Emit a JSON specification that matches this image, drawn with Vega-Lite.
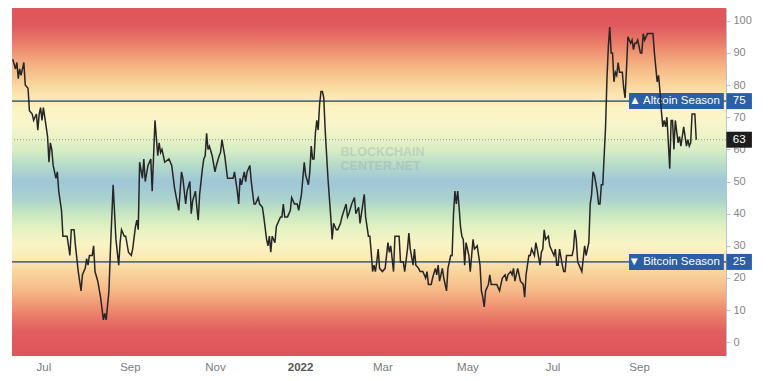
{
  "$schema": "https://vega.github.io/schema/vega-lite/v6.json",
  "width": 714,
  "height": 348,
  "autosize": "none",
  "padding": {"left": 12, "top": 8, "right": 47, "bottom": 25},
  "background": "white",
  "config": {"view": {"stroke": null}, "font": "Liberation Sans"},
  "resolve": {"axis": {"x": "independent", "y": "independent"}},
  "datasets": {
    "alt": [
      {"date":"2021-06-09","index":88},{"date":"2021-06-11","index":85},{"date":"2021-06-12","index":87},{"date":"2021-06-13","index":82},{"date":"2021-06-14","index":85},{"date":"2021-06-15","index":83},{"date":"2021-06-17","index":87},{"date":"2021-06-18","index":80},{"date":"2021-06-20","index":79},{"date":"2021-06-21","index":72},{"date":"2021-06-23","index":71},{"date":"2021-06-24","index":69},{"date":"2021-06-26","index":71},{"date":"2021-06-27","index":66},{"date":"2021-06-28","index":71},{"date":"2021-06-29","index":73},{"date":"2021-06-30","index":69},
      {"date":"2021-07-01","index":73},{"date":"2021-07-03","index":67},{"date":"2021-07-04","index":64},{"date":"2021-07-05","index":56},{"date":"2021-07-06","index":62},{"date":"2021-07-07","index":60},{"date":"2021-07-08","index":55},{"date":"2021-07-09","index":53},{"date":"2021-07-10","index":51},{"date":"2021-07-11","index":53},{"date":"2021-07-12","index":47},{"date":"2021-07-14","index":41},{"date":"2021-07-15","index":33},{"date":"2021-07-18","index":33},{"date":"2021-07-20","index":27},{"date":"2021-07-21","index":35},{"date":"2021-07-23","index":35},{"date":"2021-07-24","index":30},{"date":"2021-07-26","index":22},{"date":"2021-07-28","index":16},{"date":"2021-07-29","index":21},{"date":"2021-07-31","index":23},
      {"date":"2021-08-01","index":26},{"date":"2021-08-02","index":24},{"date":"2021-08-03","index":27},{"date":"2021-08-05","index":27},{"date":"2021-08-06","index":30},{"date":"2021-08-07","index":22},{"date":"2021-08-09","index":19},{"date":"2021-08-11","index":14},{"date":"2021-08-13","index":7},{"date":"2021-08-14","index":9},{"date":"2021-08-15","index":7},{"date":"2021-08-17","index":16},{"date":"2021-08-18","index":28},{"date":"2021-08-20","index":49},{"date":"2021-08-22","index":32},{"date":"2021-08-24","index":24},{"date":"2021-08-25","index":31},{"date":"2021-08-26","index":35},{"date":"2021-08-28","index":33},{"date":"2021-08-29","index":33},{"date":"2021-08-31","index":28},
      {"date":"2021-09-02","index":27},{"date":"2021-09-03","index":29},{"date":"2021-09-05","index":36},{"date":"2021-09-06","index":38},{"date":"2021-09-07","index":35},{"date":"2021-09-08","index":56},{"date":"2021-09-10","index":51},{"date":"2021-09-11","index":57},{"date":"2021-09-12","index":50},{"date":"2021-09-14","index":55},{"date":"2021-09-16","index":57},{"date":"2021-09-17","index":47},{"date":"2021-09-19","index":69},{"date":"2021-09-21","index":58},{"date":"2021-09-22","index":62},{"date":"2021-09-23","index":59},{"date":"2021-09-24","index":60},{"date":"2021-09-26","index":56},{"date":"2021-09-29","index":57},
      {"date":"2021-10-01","index":55},{"date":"2021-10-03","index":48},{"date":"2021-10-06","index":41},{"date":"2021-10-08","index":53},{"date":"2021-10-09","index":51},{"date":"2021-10-11","index":43},{"date":"2021-10-12","index":47},{"date":"2021-10-14","index":50},{"date":"2021-10-15","index":40},{"date":"2021-10-16","index":44},{"date":"2021-10-18","index":47},{"date":"2021-10-19","index":42},{"date":"2021-10-20","index":38},{"date":"2021-10-21","index":46},{"date":"2021-10-23","index":54},{"date":"2021-10-24","index":57},{"date":"2021-10-25","index":58},{"date":"2021-10-26","index":65},{"date":"2021-10-27","index":60},{"date":"2021-10-28","index":61},{"date":"2021-10-30","index":58},
      {"date":"2021-11-01","index":53},{"date":"2021-11-02","index":55},{"date":"2021-11-04","index":58},{"date":"2021-11-05","index":59},{"date":"2021-11-06","index":63},{"date":"2021-11-08","index":58},{"date":"2021-11-10","index":51},{"date":"2021-11-12","index":51},{"date":"2021-11-14","index":51},{"date":"2021-11-15","index":53},{"date":"2021-11-17","index":47},{"date":"2021-11-18","index":43},{"date":"2021-11-19","index":51},{"date":"2021-11-20","index":49},{"date":"2021-11-22","index":53},{"date":"2021-11-23","index":50},{"date":"2021-11-24","index":53},{"date":"2021-11-26","index":55},{"date":"2021-11-27","index":50},{"date":"2021-11-29","index":43},{"date":"2021-11-30","index":43},
      {"date":"2021-12-02","index":45},{"date":"2021-12-03","index":43},{"date":"2021-12-05","index":42},{"date":"2021-12-06","index":39},{"date":"2021-12-08","index":32},{"date":"2021-12-09","index":30},{"date":"2021-12-10","index":33},{"date":"2021-12-11","index":28},{"date":"2021-12-12","index":33},{"date":"2021-12-14","index":31},{"date":"2021-12-15","index":36},{"date":"2021-12-16","index":37},{"date":"2021-12-18","index":39},{"date":"2021-12-19","index":39},{"date":"2021-12-20","index":43},{"date":"2021-12-21","index":39},{"date":"2021-12-23","index":39},{"date":"2021-12-25","index":41},{"date":"2021-12-26","index":45},{"date":"2021-12-28","index":43},{"date":"2021-12-30","index":43},{"date":"2021-12-31","index":41},
      {"date":"2022-01-02","index":46},{"date":"2022-01-04","index":56},{"date":"2022-01-05","index":52},{"date":"2022-01-07","index":49},{"date":"2022-01-08","index":53},{"date":"2022-01-09","index":61},{"date":"2022-01-10","index":57},{"date":"2022-01-11","index":57},{"date":"2022-01-12","index":65},{"date":"2022-01-13","index":69},{"date":"2022-01-14","index":66},{"date":"2022-01-15","index":74},{"date":"2022-01-16","index":78},{"date":"2022-01-17","index":78},{"date":"2022-01-18","index":76},{"date":"2022-01-19","index":66},{"date":"2022-01-21","index":51},{"date":"2022-01-22","index":45},{"date":"2022-01-23","index":39},{"date":"2022-01-24","index":32},{"date":"2022-01-25","index":37},{"date":"2022-01-27","index":35},{"date":"2022-01-28","index":35},{"date":"2022-01-30","index":37},{"date":"2022-01-31","index":39},
      {"date":"2022-02-03","index":43},{"date":"2022-02-04","index":39},{"date":"2022-02-05","index":40},{"date":"2022-02-07","index":43},{"date":"2022-02-09","index":45},{"date":"2022-02-10","index":40},{"date":"2022-02-12","index":42},{"date":"2022-02-13","index":37},{"date":"2022-02-14","index":40},{"date":"2022-02-16","index":46},{"date":"2022-02-17","index":39},{"date":"2022-02-19","index":33},{"date":"2022-02-20","index":33},{"date":"2022-02-21","index":28},{"date":"2022-02-22","index":22},{"date":"2022-02-23","index":24},{"date":"2022-02-24","index":22},{"date":"2022-02-25","index":25},{"date":"2022-02-26","index":29},{"date":"2022-02-27","index":23},
      {"date":"2022-03-01","index":22},{"date":"2022-03-03","index":23},{"date":"2022-03-05","index":31},{"date":"2022-03-06","index":28},{"date":"2022-03-07","index":30},{"date":"2022-03-09","index":22},{"date":"2022-03-10","index":33},{"date":"2022-03-11","index":33},{"date":"2022-03-13","index":33},{"date":"2022-03-14","index":25},{"date":"2022-03-16","index":25},{"date":"2022-03-17","index":22},{"date":"2022-03-19","index":29},{"date":"2022-03-20","index":34},{"date":"2022-03-21","index":29},{"date":"2022-03-23","index":24},{"date":"2022-03-24","index":29},{"date":"2022-03-25","index":24},{"date":"2022-03-27","index":23},{"date":"2022-03-28","index":22},{"date":"2022-03-30","index":22},
      {"date":"2022-04-01","index":20},{"date":"2022-04-02","index":22},{"date":"2022-04-03","index":18},{"date":"2022-04-05","index":18},{"date":"2022-04-06","index":20},{"date":"2022-04-08","index":23},{"date":"2022-04-09","index":21},{"date":"2022-04-10","index":24},{"date":"2022-04-11","index":19},{"date":"2022-04-13","index":23},{"date":"2022-04-14","index":20},{"date":"2022-04-16","index":16},{"date":"2022-04-17","index":23},{"date":"2022-04-19","index":27},{"date":"2022-04-20","index":27},{"date":"2022-04-21","index":40},{"date":"2022-04-22","index":47},{"date":"2022-04-23","index":43},{"date":"2022-04-24","index":47},{"date":"2022-04-25","index":42},{"date":"2022-04-26","index":36},{"date":"2022-04-27","index":33},{"date":"2022-04-28","index":32},{"date":"2022-04-29","index":24},{"date":"2022-04-30","index":31},
      {"date":"2022-05-02","index":27},{"date":"2022-05-03","index":22},{"date":"2022-05-04","index":27},{"date":"2022-05-05","index":32},{"date":"2022-05-06","index":29},{"date":"2022-05-08","index":30},{"date":"2022-05-09","index":27},{"date":"2022-05-10","index":24},{"date":"2022-05-11","index":16},{"date":"2022-05-12","index":14},{"date":"2022-05-13","index":11},{"date":"2022-05-14","index":16},{"date":"2022-05-16","index":18},{"date":"2022-05-17","index":21},{"date":"2022-05-18","index":18},{"date":"2022-05-20","index":18},{"date":"2022-05-22","index":18},{"date":"2022-05-24","index":16},{"date":"2022-05-25","index":18},{"date":"2022-05-26","index":20},{"date":"2022-05-28","index":21},{"date":"2022-05-29","index":19},{"date":"2022-05-30","index":21},
      {"date":"2022-06-01","index":22},{"date":"2022-06-02","index":21},{"date":"2022-06-03","index":23},{"date":"2022-06-04","index":19},{"date":"2022-06-06","index":23},{"date":"2022-06-07","index":21},{"date":"2022-06-08","index":19},{"date":"2022-06-10","index":18},{"date":"2022-06-11","index":14},{"date":"2022-06-12","index":21},{"date":"2022-06-14","index":27},{"date":"2022-06-15","index":27},{"date":"2022-06-16","index":29},{"date":"2022-06-18","index":27},{"date":"2022-06-19","index":31},{"date":"2022-06-20","index":29},{"date":"2022-06-22","index":24},{"date":"2022-06-23","index":28},{"date":"2022-06-24","index":29},{"date":"2022-06-25","index":35},{"date":"2022-06-26","index":32},{"date":"2022-06-28","index":33},{"date":"2022-06-29","index":30},{"date":"2022-06-30","index":29},
      {"date":"2022-07-02","index":27},{"date":"2022-07-03","index":29},{"date":"2022-07-04","index":24},{"date":"2022-07-05","index":24},{"date":"2022-07-06","index":29},{"date":"2022-07-08","index":24},{"date":"2022-07-09","index":22},{"date":"2022-07-10","index":22},{"date":"2022-07-11","index":27},{"date":"2022-07-13","index":27},{"date":"2022-07-15","index":27},{"date":"2022-07-16","index":29},{"date":"2022-07-17","index":35},{"date":"2022-07-18","index":32},{"date":"2022-07-19","index":25},{"date":"2022-07-22","index":22},{"date":"2022-07-24","index":30},{"date":"2022-07-25","index":27},{"date":"2022-07-27","index":31},{"date":"2022-07-28","index":43},{"date":"2022-07-29","index":46},{"date":"2022-07-30","index":53},{"date":"2022-07-31","index":52},
      {"date":"2022-08-02","index":47},{"date":"2022-08-03","index":43},{"date":"2022-08-04","index":43},{"date":"2022-08-05","index":49},{"date":"2022-08-06","index":49},{"date":"2022-08-07","index":58},{"date":"2022-08-08","index":67},{"date":"2022-08-09","index":82},{"date":"2022-08-10","index":92},{"date":"2022-08-11","index":98},{"date":"2022-08-12","index":90},{"date":"2022-08-13","index":90},{"date":"2022-08-14","index":81},{"date":"2022-08-15","index":84},{"date":"2022-08-16","index":83},{"date":"2022-08-17","index":87},{"date":"2022-08-18","index":84},{"date":"2022-08-20","index":84},{"date":"2022-08-21","index":79},{"date":"2022-08-22","index":76},{"date":"2022-08-23","index":85},{"date":"2022-08-24","index":95},{"date":"2022-08-26","index":93},{"date":"2022-08-27","index":94},{"date":"2022-08-28","index":91},{"date":"2022-08-29","index":93},{"date":"2022-08-30","index":93},{"date":"2022-08-31","index":94},
      {"date":"2022-09-02","index":90},{"date":"2022-09-03","index":90},{"date":"2022-09-04","index":96},{"date":"2022-09-05","index":94},{"date":"2022-09-07","index":96},{"date":"2022-09-09","index":96},{"date":"2022-09-11","index":96},{"date":"2022-09-12","index":90},{"date":"2022-09-14","index":81},{"date":"2022-09-15","index":83},{"date":"2022-09-16","index":78},{"date":"2022-09-17","index":72},{"date":"2022-09-18","index":67},{"date":"2022-09-19","index":69},{"date":"2022-09-20","index":67},{"date":"2022-09-21","index":70},{"date":"2022-09-22","index":62},{"date":"2022-09-23","index":54},{"date":"2022-09-24","index":69},{"date":"2022-09-25","index":69},{"date":"2022-09-26","index":60},{"date":"2022-09-27","index":69},{"date":"2022-09-29","index":62},{"date":"2022-09-30","index":64},
      {"date":"2022-10-01","index":61},{"date":"2022-10-02","index":64},{"date":"2022-10-03","index":67},{"date":"2022-10-05","index":61},{"date":"2022-10-06","index":63},{"date":"2022-10-07","index":61},{"date":"2022-10-08","index":62},{"date":"2022-10-09","index":71},{"date":"2022-10-11","index":71},{"date":"2022-10-12","index":63}
    ],
    "boxes": [
      {"kind": "season", "value": 75, "from": "2022-08-24T19:00:00Z", "to": "2022-10-31T19:00:00Z"},
      {"kind": "season", "value": 25, "from": "2022-08-24T19:00:00Z", "to": "2022-10-31T19:00:00Z"},
      {"kind": "season", "value": 75, "from": "2022-11-02T14:00:00Z", "to": "2022-11-20T22:00:00Z"},
      {"kind": "season", "value": 25, "from": "2022-11-02T14:00:00Z", "to": "2022-11-20T22:00:00Z"},
      {"kind": "last", "value": 63, "from": "2022-11-02T14:00:00Z", "to": "2022-11-20T22:00:00Z"}
    ],
    "seasons": [
      {"label": "▲ Altcoin Season", "value": 75, "at": "2022-10-31T19:00:00Z"},
      {"label": "▼ Bitcoin Season", "value": 25, "at": "2022-10-31T19:00:00Z"}
    ],
    "tags": [
      {"tag": "75", "value": 75, "mid": "2022-11-11T18:00:00Z"},
      {"tag": "25", "value": 25, "mid": "2022-11-11T18:00:00Z"},
      {"tag": "63", "value": 63, "mid": "2022-11-11T18:00:00Z"}
    ],
    "watermark": [
      {"date": "2022-01-30", "value": 59.1, "text": "BLOCKCHAIN"},
      {"date": "2022-01-30", "value": 54.7, "text": "CENTER.NET"}
    ]
  },
  "layer": [
    {
      "data": {"values": [{}]},
      "mark": {
        "type": "rect",
        "fill": {
          "gradient": "linear", "x1": 0, "y1": 0, "x2": 0, "y2": 1,
          "stops": [
            {"offset": 0.0, "color": "#df565b"},
            {"offset": 0.05, "color": "#e0595d"},
            {"offset": 0.09, "color": "#e77566"},
            {"offset": 0.13, "color": "#ef9775"},
            {"offset": 0.17, "color": "#f5b683"},
            {"offset": 0.21, "color": "#f9cf98"},
            {"offset": 0.25, "color": "#fbe6b0"},
            {"offset": 0.29, "color": "#fdf3c3"},
            {"offset": 0.33, "color": "#f8f6ca"},
            {"offset": 0.37, "color": "#ebf3c6"},
            {"offset": 0.41, "color": "#d6edc5"},
            {"offset": 0.45, "color": "#b6dcc8"},
            {"offset": 0.50, "color": "#9fc6d8"},
            {"offset": 0.55, "color": "#abd3cc"},
            {"offset": 0.59, "color": "#c6e6c2"},
            {"offset": 0.63, "color": "#e3f1c2"},
            {"offset": 0.68, "color": "#faf4c4"},
            {"offset": 0.72, "color": "#fbe9b4"},
            {"offset": 0.76, "color": "#f9d49c"},
            {"offset": 0.81, "color": "#f6ba88"},
            {"offset": 0.85, "color": "#f19976"},
            {"offset": 0.89, "color": "#e97868"},
            {"offset": 0.93, "color": "#e15e5f"},
            {"offset": 1.0, "color": "#de565b"}
          ]
        }
      },
      "encoding": {}
    },
    {
      "data": {"name": "alt"},
      "mark": {"type": "line", "color": "#262626", "strokeWidth": 1.5, "interpolate": "linear", "opacity": 0},
      "encoding": {
        "x": {
          "field": "date", "type": "temporal",
          "scale": {"type": "utc", "domain": [{"year": 2021, "month": "jun", "date": 8, "hours": 12, "utc": true}, {"year": 2022, "month": "nov", "date": 2, "hours": 8, "utc": true}]},
          "axis": {
            "orient": "bottom", "title": null, "grid": false, "domain": false, "ticks": false, "tickSize": 0,
            "values": [
              {"year": 2021, "month": "jul", "date": 1, "utc": true},
              {"year": 2021, "month": "sep", "date": 1, "utc": true},
              {"year": 2021, "month": "nov", "date": 1, "utc": true},
              {"year": 2022, "month": "jan", "date": 1, "utc": true},
              {"year": 2022, "month": "mar", "date": 1, "utc": true},
              {"year": 2022, "month": "may", "date": 1, "utc": true},
              {"year": 2022, "month": "jul", "date": 1, "utc": true},
              {"year": 2022, "month": "sep", "date": 1, "utc": true}
            ],
            "labelExpr": "utcmonth(datum.value) == 0 ? utcFormat(datum.value, '%Y') : utcFormat(datum.value, '%b')",
            "labelFontWeight": {"condition": {"test": "utcmonth(datum.value) == 0", "value": "bold"}, "value": "normal"},
            "labelColor": {"condition": {"test": "utcmonth(datum.value) == 0", "value": "#555555"}, "value": "#7a7a7a"},
            "labelFontSize": 11.5, "labelPadding": 5, "labelFont": "Liberation Sans", "labelOverlap": false
          }
        },
        "y": {
          "field": "index", "type": "quantitative",
          "scale": {"domain": [-2.7, 102.4], "nice": false, "zero": false},
          "axis": {
            "orient": "right", "title": null, "grid": false,
            "values": [0, 10, 20, 30, 40, 50, 60, 70, 80, 90, 100],
            "labelOverlap": false,
            "domainColor": "#b4c4d6", "domainWidth": 1,
            "tickColor": "#b4c4d6", "tickSize": 4,
            "labelColor": "#858585", "labelFontSize": 11, "labelPadding": 3, "labelFont": "Liberation Sans"
          }
        }
      }
    },
    {
      "data": {"values": [{"v": 75}, {"v": 25}]},
      "mark": {"type": "rule", "color": "#5a6d84", "strokeWidth": 1.6},
      "encoding": {
        "y": {"field": "v", "type": "quantitative", "scale": {"domain": [-2.7, 102.4], "nice": false, "zero": false}, "axis": null}
      }
    },
    {
      "data": {"values": [{"v": 63}]},
      "mark": {"type": "rule", "color": "#7d8a86", "strokeWidth": 1, "strokeDash": [1, 2], "opacity": 0.8},
      "encoding": {
        "y": {"field": "v", "type": "quantitative", "scale": {"domain": [-2.7, 102.4], "nice": false, "zero": false}, "axis": null}
      }
    },
    {
      "data": {"name": "watermark"},
      "mark": {"type": "text", "align": "left", "baseline": "middle", "fontSize": 12.5, "fontWeight": "bold", "color": "#8799a4", "opacity": 0.28, "font": "Liberation Sans"},
      "encoding": {
        "x": {"field": "date", "type": "temporal", "scale": {"type": "utc", "domain": [{"year": 2021, "month": "jun", "date": 8, "hours": 12, "utc": true}, {"year": 2022, "month": "nov", "date": 2, "hours": 8, "utc": true}]}, "axis": null},
        "y": {"field": "value", "type": "quantitative", "scale": {"domain": [-2.7, 102.4], "nice": false, "zero": false}, "axis": null},
        "text": {"field": "text"}
      }
    },
    {
      "data": {"name": "boxes"},
      "mark": {"type": "bar", "size": 16, "orient": "horizontal", "clip": false},
      "encoding": {
        "x": {"field": "from", "type": "temporal", "scale": {"type": "utc", "domain": [{"year": 2021, "month": "jun", "date": 8, "hours": 12, "utc": true}, {"year": 2022, "month": "nov", "date": 2, "hours": 8, "utc": true}]}, "axis": null},
        "x2": {"field": "to"},
        "y": {"field": "value", "type": "quantitative", "scale": {"domain": [-2.7, 102.4], "nice": false, "zero": false}, "axis": null},
        "color": {"field": "kind", "type": "nominal", "scale": {"domain": ["season", "last"], "range": ["#2c5ea6", "#1d1d1d"]}, "legend": null}
      }
    },
    {
      "data": {"name": "seasons"},
      "mark": {"type": "text", "align": "right", "baseline": "middle", "dx": -4, "color": "white", "fontSize": 11.5, "font": "Liberation Sans"},
      "encoding": {
        "x": {"field": "at", "type": "temporal", "scale": {"type": "utc", "domain": [{"year": 2021, "month": "jun", "date": 8, "hours": 12, "utc": true}, {"year": 2022, "month": "nov", "date": 2, "hours": 8, "utc": true}]}, "axis": null},
        "y": {"field": "value", "type": "quantitative", "scale": {"domain": [-2.7, 102.4], "nice": false, "zero": false}, "axis": null},
        "text": {"field": "label"}
      }
    },
    {
      "data": {"name": "alt"},
      "mark": {"type": "line", "color": "#262626", "strokeWidth": 1.5, "interpolate": "linear"},
      "encoding": {
        "x": {"field": "date", "type": "temporal", "scale": {"type": "utc", "domain": [{"year": 2021, "month": "jun", "date": 8, "hours": 12, "utc": true}, {"year": 2022, "month": "nov", "date": 2, "hours": 8, "utc": true}]}, "axis": null},
        "y": {"field": "index", "type": "quantitative", "scale": {"domain": [-2.7, 102.4], "nice": false, "zero": false}, "axis": null}
      }
    },
    {
      "data": {"name": "tags"},
      "mark": {"type": "text", "align": "center", "baseline": "middle", "color": "white", "fontSize": 11.5, "font": "Liberation Sans"},
      "encoding": {
        "x": {"field": "mid", "type": "temporal", "scale": {"type": "utc", "domain": [{"year": 2021, "month": "jun", "date": 8, "hours": 12, "utc": true}, {"year": 2022, "month": "nov", "date": 2, "hours": 8, "utc": true}]}, "axis": null},
        "y": {"field": "value", "type": "quantitative", "scale": {"domain": [-2.7, 102.4], "nice": false, "zero": false}, "axis": null},
        "text": {"field": "tag"}
      }
    }
  ]
}
